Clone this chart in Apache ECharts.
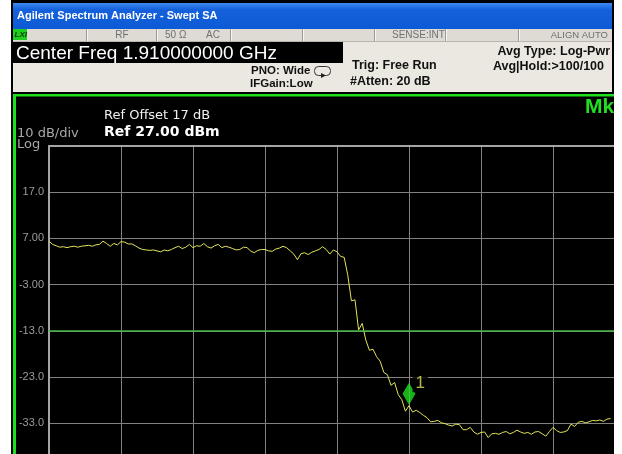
<!DOCTYPE html>
<html><head><meta charset="utf-8">
<script src="https://cdn.jsdelivr.net/npm/echarts@6/dist/echarts.min.js"></script>
<style>html,body{margin:0;padding:0;background:#fff}#c{width:622px;height:454px}</style>
</head><body><div id="c"></div>
<script>
// ---- data ----
const refLevel = 27;          // dBm, top of graticule
const bottomLevel = -73;      // dBm, 10 divisions below
const dbPerDiv = 10;
const sweepSteps = 200;       // trace sample grid across 10 divisions
const yTickValues = [17, 7, -3, -13, -23, -33];
const yTickLabels = ['17.0', '7.00', '-3.00', '-13.0', '-23.0', '-33.0'];
const displayLine = -13.0;
const markerIndex = 100;
const markerName = '1';
const traceDbm = [
  6.4, 5.7, 5.4, 5.1, 5.2, 5.0, 5.2, 5.3, 5.1, 5.3,
  5.4, 5.5, 5.3, 5.6, 5.7, 6.4, 5.9, 5.3, 5.9, 5.6,
  6.3, 6.2, 5.8, 5.8, 5.4, 4.9, 4.6, 4.5, 4.4, 4.5,
  4.3, 4.1, 4.5, 4.3, 4.6, 5.0, 5.3, 4.8, 5.1, 5.7,
  5.0, 5.4, 5.3, 5.9, 5.2, 4.9, 5.4, 5.7, 5.0, 5.3,
  5.1, 4.8, 4.5, 4.6, 5.1, 5.0, 4.3, 3.9, 4.4, 4.6,
  4.6, 4.3, 4.2, 4.7, 4.9, 5.3, 5.0, 4.3, 3.6, 2.4,
  3.7, 3.9, 3.5, 4.0, 4.3, 4.6, 5.2, 4.6, 3.6, 4.5,
  4.1, 3.1, 2.9, -1.0, -6.5, -6.3, -12.8, -11.4, -15.0, -17.2,
  -17.0, -18.6, -19.6, -22.0, -22.5, -24.8, -24.2, -26.8, -27.9, -30.4,
  -29.2, -30.6, -30.2, -30.7, -31.3, -31.8, -32.7, -32.6, -32.4, -32.9,
  -33.1, -33.4, -33.6, -33.2, -33.3, -34.4, -34.4, -33.9, -34.9, -35.4,
  -35.0, -34.9, -36.1, -35.3, -35.2, -35.4, -35.0, -34.8, -35.3, -35.0,
  -34.5, -34.9, -35.2, -35.0, -35.4, -34.9, -34.8, -35.3, -35.8, -34.8,
  -33.9, -34.6, -35.0, -34.9, -34.6, -33.2, -33.7, -32.8, -32.6, -32.9,
  -32.7, -32.4, -32.5, -32.3, -32.6, -32.1, -32.0
];

// ---- chart ----
const chart = echarts.init(document.getElementById('c'), null, {renderer: 'canvas'});
const SANS = '"Liberation Sans", Arial, sans-serif';
const DJV = '"DejaVu Sans", sans-serif';
const BEHIND = -20;

function rect(x, y, w, h, fill, z, extra) {
  return Object.assign({type: 'rect', shape: {x: x, y: y, width: w, height: h}, style: {fill: fill}, z: z, silent: true}, extra || {});
}
function txt(x, y, s, font, fill, align, z) {
  return {type: 'text', x: x, y: y, z: z || 10, silent: true,
    style: {text: s, font: font, fill: fill, textAlign: align || 'left', textVerticalAlign: 'middle'}};
}

const statusDividers = [86, 156, 230, 302, 374, 445, 518];
const graphics = [
  rect(11, 0, 603, 454, '#000', BEHIND),
  rect(13, 3, 599, 26, new echarts.graphic.LinearGradient(0, 0, 0, 1, [
    {offset: 0, color: '#3d8af2'}, {offset: 0.25, color: '#1561dc'}, {offset: 1, color: '#0d5ad6'}]), BEHIND + 1),
  rect(13, 29, 599, 13, '#dedbd4', BEHIND + 1),
  rect(13, 42, 599, 50, '#ebe8e1', BEHIND + 1),
  rect(13, 42, 330, 21, '#000', BEHIND + 2),
  rect(13, 29, 14, 11, '#1fcf1f', BEHIND + 2),
  rect(13, 94, 601, 2.5, '#1ee01e', 5),
  rect(13, 94, 3, 360, '#1ee01e', 5),
  rect(614, 0, 8, 454, '#fff', 200),
  rect(0, 0, 11, 454, '#fff', 200)
];
statusDividers.forEach(function (x) {
  graphics.push(rect(x, 29, 1, 12, '#9e9b94', BEHIND + 2));
  graphics.push(rect(x + 1, 29, 1, 12, '#f6f5f2', BEHIND + 2));
});
graphics.push(rect(13, 41, 599, 1, '#b8b5ae', BEHIND + 2));
graphics.push(
  txt(17, 16, 'Agilent Spectrum Analyzer - Swept SA', 'bold 11px ' + SANS, '#fff'),
  txt(14.5, 35, 'LXI', 'italic bold 8px ' + SANS, '#0a3a0a'),
  txt(122, 35.5, 'RF', '10px ' + SANS, '#707070', 'center'),
  txt(165, 35.5, '50 \u03A9', '10px ' + SANS, '#707070'),
  txt(206, 35.5, 'AC', '10px ' + SANS, '#707070'),
  txt(392, 35.5, 'SENSE:INT', '10px ' + SANS, '#707070'),
  txt(608, 35.5, 'ALIGN AUTO', '9.5px ' + SANS, '#707070', 'right'),
  txt(16, 53.5, 'Center Freq 1.910000000 GHz', '19px ' + SANS, '#fff'),
  txt(251, 71.3, 'PNO: Wide', 'bold 11.5px ' + SANS, '#111'),
  txt(250, 83.8, 'IFGain:Low', 'bold 11.5px ' + SANS, '#111'),
  txt(352, 66, 'Trig: Free Run', 'bold 12.5px ' + SANS, '#111'),
  txt(350, 81.3, '#Atten: 20 dB', 'bold 12.5px ' + SANS, '#111'),
  txt(610, 51.3, 'Avg Type: Log-Pwr', 'bold 12.5px ' + SANS, '#111', 'right'),
  txt(604, 66.3, 'Avg|Hold:>100/100', 'bold 12.5px ' + SANS, '#111', 'right'),
  txt(104, 116, 'Ref Offset 17 dB', '13px ' + DJV, '#f0f0f0'),
  txt(104, 132.8, 'Ref 27.00 dBm', 'bold 14px ' + DJV, '#fff'),
  txt(17, 133.5, '10 dB/div', '13px ' + DJV, '#a8a8a8'),
  txt(17, 144.5, 'Log', '13px ' + DJV, '#a8a8a8'),
  txt(585, 107.5, 'Mkr1', 'bold 21px ' + SANS, '#22dd22')
);
// PNO sweep icon
graphics.push({type: 'rect', z: 10, silent: true, shape: {x: 314.5, y: 66.5, width: 16, height: 9, r: 4},
  style: {fill: 'none', stroke: '#333', lineWidth: 1}});
graphics.push({type: 'polygon', z: 11, silent: true, shape: {points: [[321, 73], [326, 75.5], [321, 78]]},
  style: {fill: '#222'}});

const option = {
  backgroundColor: '#fff',
  animation: false,
  grid: {left: 49, top: 146, width: 720, height: 462, containLabel: false, outerBoundsMode: 'none'},
  xAxis: {
    type: 'value', position: 'top', min: 0, max: sweepSteps, interval: sweepSteps / 10,
    axisLine: {show: true, onZero: false, lineStyle: {color: '#a4a4a4', width: 2}},
    axisTick: {show: false}, axisLabel: {show: false},
    splitLine: {show: true, lineStyle: {color: '#828282', width: 1}}
  },
  yAxis: {
    type: 'value', min: bottomLevel, max: refLevel, interval: dbPerDiv,
    axisLine: {show: true, onZero: false, lineStyle: {color: '#a4a4a4', width: 2}},
    axisTick: {show: false},
    axisLabel: {
      show: true, margin: 5, color: '#9c9c9c', fontSize: 11, fontFamily: SANS,
      formatter: function (v) {
        const k = yTickValues.indexOf(Math.round(v));
        return k >= 0 ? yTickLabels[k] : '';
      }
    },
    splitLine: {show: true, lineStyle: {color: '#828282', width: 1}}
  },
  series: [
    {
      type: 'line', name: 'Trace 1', showSymbol: false, symbol: 'none', z: 3,
      data: traceDbm.map(function (v, i) { return [i, v]; }),
      lineStyle: {color: '#e4e45a', width: 1},
      markLine: {
        silent: true, symbol: 'none', animation: false,
        label: {show: false},
        lineStyle: {color: '#44b844', width: 1.5, type: 'solid'},
        data: [{yAxis: displayLine}]
      }
    },
    {
      type: 'scatter', name: 'Marker', z: 4,
      data: [[markerIndex, traceDbm[markerIndex]]],
      symbol: 'diamond', symbolSize: [13, 22], symbolOffset: [0, -12],
      itemStyle: {color: '#22dd22'},
      label: {
        show: true, formatter: markerName, position: 'right', distance: 0, offset: [-3, -10],
        color: '#e2e25a', fontSize: 17, fontFamily: SANS, backgroundColor: '#000', padding: [0, 3]
      }
    }
  ],
  graphic: {elements: graphics}
};
chart.setOption(option);
</script>
</body></html>
